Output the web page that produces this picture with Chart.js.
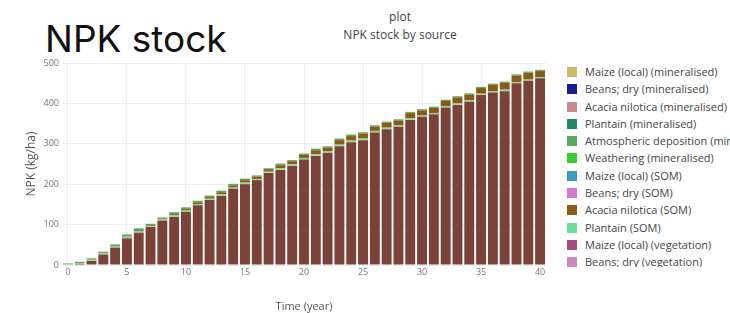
<!DOCTYPE html>
<html>
<head>
<meta charset="utf-8">
<script src="https://cdn.jsdelivr.net/npm/chart.js@4"></script>
<style>
    body { margin: 0; width: 730px; height: 313px; background: #fff; overflow: hidden; position: relative; font-family: "Open Sans", sans-serif; }
    h1 { position: absolute; left: 45px; top: 17px; margin: 0; font-family: Inter, Roboto, sans-serif; font-weight: 400; font-size: 37px; line-height: 44px; color: #111; }
    .plot-title { position: absolute; left: 300px; width: 200px; top: 8px; text-align: center; font-size: 12px; line-height: 18px; color: #444; }
    .chart-box { position: absolute; left: 0; top: 50px; width: 552px; height: 263px; }
    .legend { position: absolute; left: 565px; top: 63px; width: 165px; height: 204px; overflow: hidden; font-size: 11px; color: #444; }
    .legend div { height: 17.3px; line-height: 17px; white-space: nowrap; }
    .legend span { display: inline-block; width: 10px; height: 10px; margin: 0 8px 0 2px; vertical-align: -1px; }
</style>
</head>
<body>
<h1>NPK stock</h1>
<div class="plot-title">plot<br>NPK stock by source</div>
<div class="chart-box"><canvas id="stockChart"></canvas></div>
<div class="legend" id="legend"></div>

<script>
// Years on the x axis
const years = [];
for (let i = 0; i <= 40; i++) years.push(i);

// Stocks by source (kg/ha)
const soilStock = [1, 3, 10, 26, 43, 66, 80, 94, 110, 119, 132, 148, 161, 171, 189, 200, 210, 228, 235, 245, 261,
    270, 278, 294, 304, 309, 328, 336, 342, 359, 367, 373, 390, 396, 404, 421, 427, 430, 450, 456, 462];
const maizeMineralised = [0.5, 1, 1, 1, 1, 1, 1, 1, 1, 1, 1, 1, 1, 1, 1, 1, 1, 1, 1, 1, 1,
    1, 1, 1, 1, 1, 1, 1, 1, 1, 1, 1, 1, 1, 1, 1, 1, 1, 1, 1, 1];
const plantainSOM = [1, 1, 2, 2, 2, 3, 3, 2, 2, 3, 3, 2, 2, 3, 2, 3, 2, 2, 3, 3, 3,
    3, 3, 3, 3, 3, 3, 3, 3, 3, 2, 2, 2, 3, 3, 2, 2, 3, 2, 2, 2];
const acaciaSOM = [0, 0, 0, 1, 1, 1, 2, 2, 2, 3, 3, 4, 4, 5, 5, 6, 6, 6, 8, 8, 8,
    10, 9, 11, 11, 12, 11, 12, 12, 13, 13, 13, 13, 15, 14, 14, 16, 17, 16, 17, 15];
const atmospheric = [1, 2.5, 3.5, 2.5, 3.5, 4.5, 4.5, 2.5, 2.5, 4.5, 3.5, 3.5, 3.5, 3.5, 3.5, 3.5, 2.5, 2.5, 3.5, 2.5, 2.5,
    3.5, 2.5, 3.5, 3.5, 3.5, 2.5, 2.5, 2.5, 2.5, 2.5, 2.5, 2.5, 2.5, 2.5, 2.5, 2.5, 2.5, 2.5, 2.5, 2.5];
const weathering = [0.5, 0.5, 0.5, 0.5, 0.5, 0.5, 0.5, 0.5, 0.5, 0.5, 0.5, 0.5, 0.5, 0.5, 0.5, 0.5, 0.5, 0.5, 0.5, 0.5, 0.5,
    0.5, 0.5, 0.5, 0.5, 0.5, 0.5, 0.5, 0.5, 0.5, 0.5, 0.5, 0.5, 0.5, 0.5, 0.5, 0.5, 0.5, 0.5, 0.5, 0.5];
const zeros = years.map(() => 0);

const yTicks = [0, 100, 200, 300, 400, 500];

// Legend order (as plotted in the original)
const sources = [
    { label: 'Maize (local) (mineralised)', color: '#cbbb6c', data: maizeMineralised },
    { label: 'Beans; dry (mineralised)', color: '#1c1c8e', data: zeros },
    { label: 'Acacia nilotica (mineralised)', color: '#c98a8e', data: zeros },
    { label: 'Plantain (mineralised)', color: '#1f8a60', data: zeros },
    { label: 'Atmospheric deposition (mineralised)', color: '#5aa85a', data: atmospheric },
    { label: 'Weathering (mineralised)', color: '#33cc33', data: weathering },
    { label: 'Maize (local) (SOM)', color: '#3a9cbc', data: zeros },
    { label: 'Beans; dry (SOM)', color: '#d079d0', data: zeros },
    { label: 'Acacia nilotica (SOM)', color: '#8c5a18', data: acaciaSOM },
    { label: 'Plantain (SOM)', color: '#6cdc9c', data: plantainSOM },
    { label: 'Maize (local) (vegetation)', color: '#a44a7c', data: zeros },
    { label: 'Beans; dry (vegetation)', color: '#cc88bb', data: zeros },
    { label: 'Soil (initial)', color: '#7a4238', data: soilStock }
];

// Stacking order from the bottom up, as seen in the bars
const stackOrder = ['Soil (initial)', 'Maize (local) (mineralised)', 'Plantain (SOM)', 'Acacia nilotica (SOM)',
    'Atmospheric deposition (mineralised)', 'Weathering (mineralised)'];

const datasets = stackOrder.map(name => {
    const s = sources.find(x => x.label === name);
    return {
        label: s.label,
        data: s.data,
        backgroundColor: s.color,
        borderWidth: 0,
        barPercentage: 0.84,
        categoryPercentage: 1
    };
});

// HTML legend
const legend = document.getElementById('legend');
sources.forEach(s => {
    const row = document.createElement('div');
    row.innerHTML = '<span style="background:' + s.color + '"></span>' + s.label;
    legend.appendChild(row);
});

const ctx = document.getElementById('stockChart').getContext('2d');
const stockChart = new Chart(ctx, {
    type: 'bar',
    data: {
        labels: years,
        datasets: datasets
    },
    options: {
        responsive: true,
        maintainAspectRatio: false,
        animation: false,
        layout: { padding: { top: 13, left: 0, right: 6, bottom: 0 } },
        plugins: {
            legend: { display: false },
            tooltip: { enabled: false }
        },
        scales: {
            x: {
                stacked: true,
                grid: {
                    offset: false,
                    color: c => (c.index % 5 === 0 ? '#eeeeee' : 'rgba(0,0,0,0)'),
                    drawTicks: false
                },
                border: { display: false },
                ticks: {
                    autoSkip: false,
                    maxRotation: 0,
                    padding: 2,
                    color: '#777',
                    font: { family: 'Open Sans', size: 9 },
                    callback: function(v, i) { return i % 5 === 0 ? this.getLabelForValue(v) : ''; }
                },
                title: {
                    display: true,
                    text: 'Time (year)',
                    color: '#555',
                    font: { family: 'Open Sans', size: 11 },
                    padding: { top: 12, bottom: 0 }
                },
                afterFit: s => { s.height = 48; }
            },
            y: {
                stacked: true,
                min: 0,
                max: 500,
                afterBuildTicks: s => { s.ticks = yTicks.map(v => ({ value: v })); },
                grid: { color: '#eeeeee', drawTicks: false },
                border: { display: false },
                ticks: {
                    padding: 3,
                    color: '#777',
                    font: { family: 'Open Sans', size: 9 }
                },
                title: {
                    display: true,
                    text: 'NPK (kg/ha)',
                    color: '#555',
                    font: { family: 'Open Sans', size: 12 },
                    padding: { top: 24, bottom: 4 }
                },
                afterFit: s => { s.width = 62; }
            }
        }
    }
});
</script>
</body>
</html>
